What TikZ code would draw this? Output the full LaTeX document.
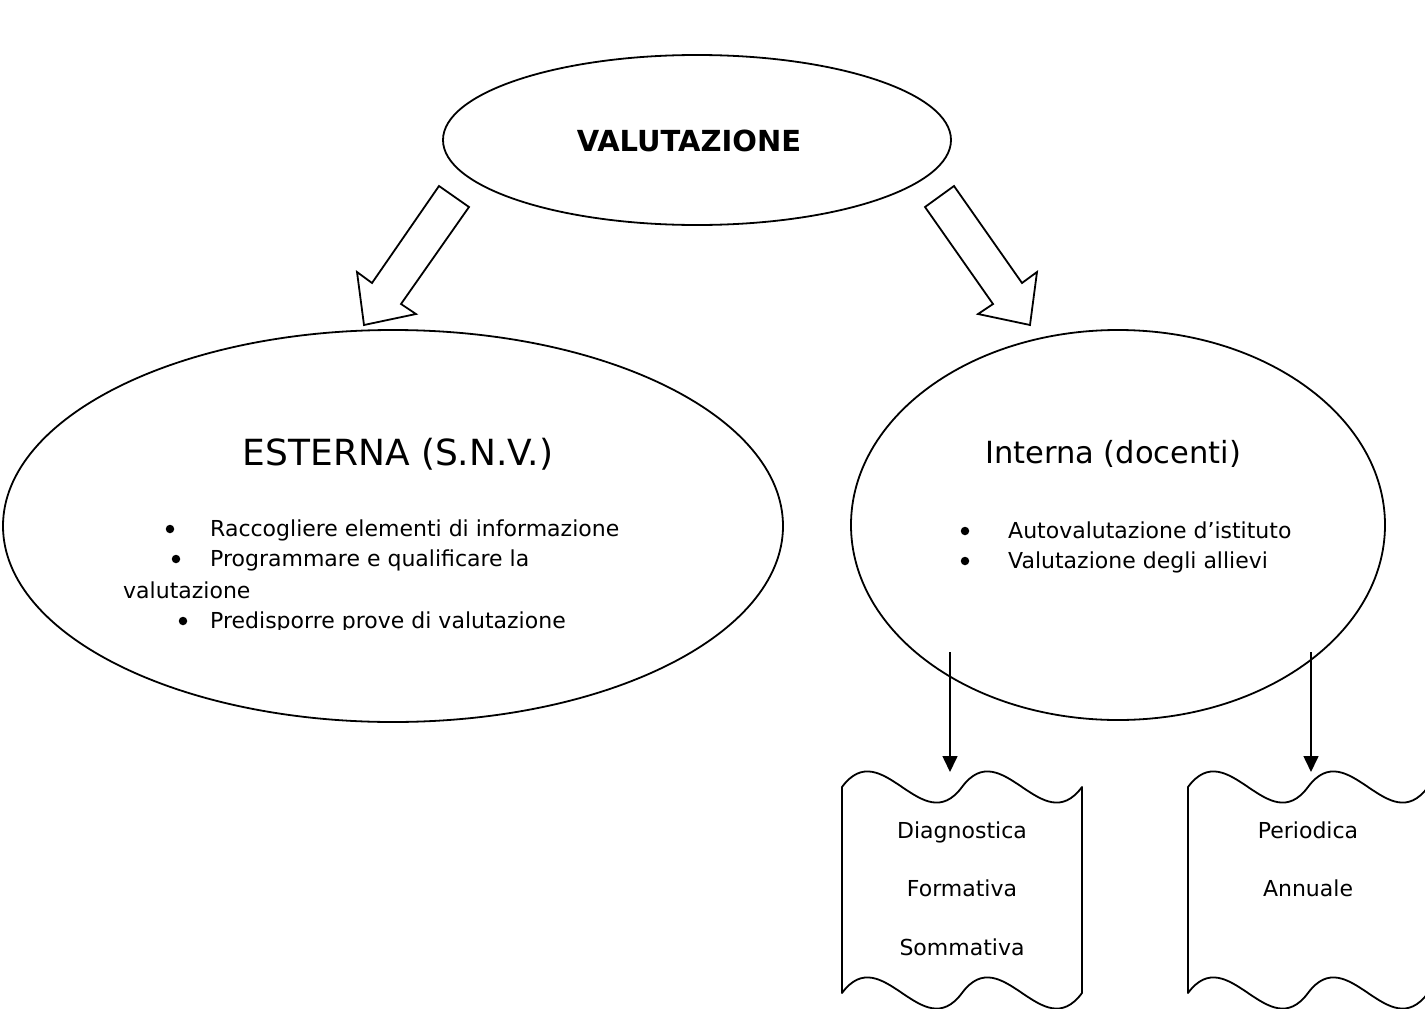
\documentclass[tikz,border=0pt]{standalone}
\usepackage{fontspec}
\setmainfont{DejaVu Sans}
\usetikzlibrary{shapes.geometric,arrows.meta}
\begin{document}
\begin{tikzpicture}[x=1pt,y=-1pt,
  shapeline/.style={draw=black,line width=1.8pt},
  txt/.style={inner sep=0pt,anchor=base west,font=\fontsize{22}{26}\selectfont},
  ctxt/.style={inner sep=0pt,anchor=base,font=\fontsize{22}{26}\selectfont},
  bul/.style={circle,fill=black,inner sep=0pt,minimum size=8.5pt},
  downarrow/.style={line width=1.6pt,-{Triangle[length=16pt,width=15pt]}},
  bigell/.style={ellipse,shapeline,inner sep=0pt}
]
\useasboundingbox (0,0) rectangle (1425,1009);
\clip (0,0) rectangle (1425,1009);

% top ellipse
\node[bigell,minimum width=508pt,minimum height=170pt] (valut) at (697,140) {};
\node[inner sep=0pt,font=\bfseries\fontsize{29}{34}\selectfont] (valuttxt) at (689,141) {VALUTAZIONE};

% block arrows
\draw[shapeline,line join=miter] (439,186) -- (469,207) -- (401,304) -- (416,314) -- (364,325) -- (357,272) -- (372,283) -- cycle;
\draw[shapeline,line join=miter] (954,186) -- (925,207) -- (993,304) -- (978,314) -- (1030,325) -- (1037,272) -- (1022,283) -- cycle;

% left ellipse
\node[bigell,minimum width=780pt,minimum height=392pt] (esterna) at (393,526) {};
\node[inner sep=0pt,font=\fontsize{36}{42}\selectfont] (esternatxt) at (398,454) {ESTERNA (S.N.V.)};
\begin{scope}
\clip (100,480) rectangle (700,629);
\node[bul] (lb1) at (170,529) {};
\node[txt] (l1) at (210,536) {Raccogliere elementi di informazione};
\node[bul] (lb2) at (176,559) {};
\node[txt] (l2) at (210,566) {Programmare e qualificare la};
\node[txt] (l3) at (123,598) {valutazione};
\node[bul] (lb4) at (183,621) {};
\node[txt] (l4) at (210,628) {Predisporre prove di valutazione};
\end{scope}

% right ellipse
\node[bigell,minimum width=534pt,minimum height=390pt] (interna) at (1118,525) {};
\node[inner sep=0pt,font=\fontsize{30.5}{36}\selectfont] (internatxt) at (1113,454) {Interna (docenti)};
\node[bul] (rb1) at (965,531) {};
\node[txt] (r1) at (1008,538) {Autovalutazione d’istituto};
\node[bul] (rb2) at (965,561) {};
\node[txt] (r2) at (1008,568) {Valutazione degli allievi};

% down arrows
\coordinate (s1) at (950,652);
\coordinate (e1) at (950,772);
\coordinate (s2) at (1311,652);
\coordinate (e2) at (1311,772);
\draw[downarrow] (s1) -- (e1);
\draw[downarrow] (s2) -- (e2);

% wave shapes (double wave)
\foreach \sx in {842,1188}{
\begin{scope}[shift={(\sx,787)}]
\draw[shapeline,line join=round] (0,0)
  .. controls (40,-54) and (80,54) .. (120,0)
  .. controls (160,-54) and (200,54) .. (240,0)
  -- (240,206)
  .. controls (200,260) and (160,152) .. (120,206)
  .. controls (80,260) and (40,152) .. (0,206) -- cycle;
\end{scope}
}
\node[ctxt] (w1) at (962,838) {Diagnostica};
\node[ctxt] (w2) at (962,896) {Formativa};
\node[ctxt] (w3) at (962,955) {Sommativa};
\node[ctxt] (w4) at (1308,838) {Periodica};
\node[ctxt] (w5) at (1308,896) {Annuale};
\end{tikzpicture}
\end{document}
